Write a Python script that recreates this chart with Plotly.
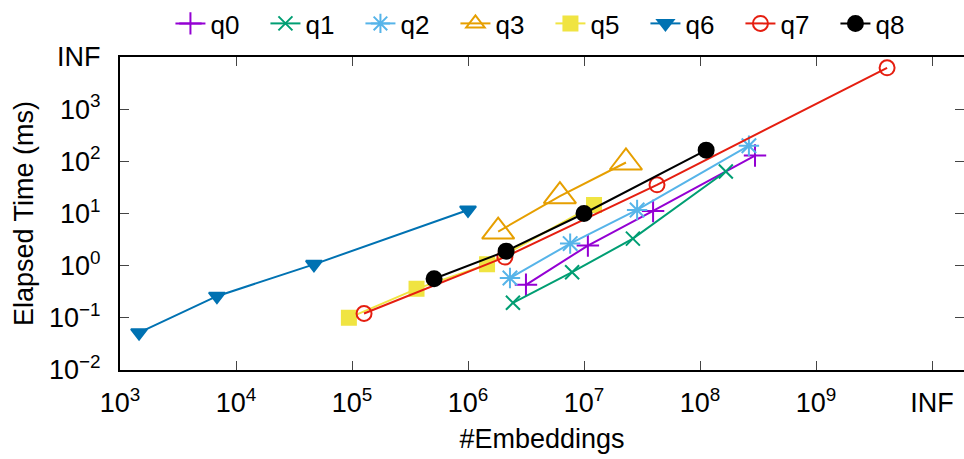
import plotly.graph_objects as go

# ---- data ----
names = ["q0", "q1", "q2", "q3", "q5", "q6", "q7", "q8"]

q0_x = [3.16e6, 1.08e7, 3.94e7, 2.98e8]
q0_y = [0.43, 2.43, 11.2, 129]

q1_x = [2.44e6, 7.9e6, 2.64e7, 1.67e8]
q1_y = [0.194, 0.75, 3.3, 64]

q2_x = [2.3e6, 7.6e6, 2.87e7, 2.64e8]
q2_y = [0.58, 2.65, 11.7, 199]

q3_x = [1.82e6, 6.2e6, 2.3e7]
q3_y = [4.5, 21.5, 95]

q5_x = [9.4e4, 3.6e5, 1.46e6, 1.22e7]
q5_y = [0.10, 0.36, 1.06, 14.5]

q6_x = [1.46e3, 6.85e3, 4.7e4, 1.0e6]
q6_y = [0.052, 0.26, 1.06, 11.7]

q7_x = [1.27e5, 2.08e6, 4.26e7, 4.1e9]
q7_y = [0.121, 1.46, 35.5, 6200]

q8_x = [5.1e5, 2.13e6, 1.0e7, 1.13e8]
q8_y = [0.56, 1.9, 10.0, 164]

x_tickvals = [1e3, 1e4, 1e5, 1e6, 1e7, 1e8, 1e9, 1e10]
x_ticktext = ["10<sup>3</sup>", "10<sup>4</sup>", "10<sup>5</sup>", "10<sup>6</sup>",
              "10<sup>7</sup>", "10<sup>8</sup>", "10<sup>9</sup>", "INF"]
y_tickvals = [1e-2, 1e-1, 1e0, 1e1, 1e2, 1e3, 1e4]
y_ticktext = ["10<sup>\u22122</sup>", "10<sup>\u22121</sup>", "10<sup>0</sup>",
              "10<sup>1</sup>", "10<sup>2</sup>", "10<sup>3</sup>", "INF"]

xs = [q0_x, q1_x, q2_x, q3_x, q5_x, q6_x, q7_x, q8_x]
ys = [q0_y, q1_y, q2_y, q3_y, q5_y, q6_y, q7_y, q8_y]

# ---- styles ----
colors = ["#9400D3", "#009E73", "#56B4E9", "#E69F00", "#F0E442", "#0072B2", "#E51E10", "#000000"]
symbols = ["cross-thin-open", "x-thin-open", "asterisk-open", "triangle-up-open",
           "square", "triangle-down", "circle-open", "circle"]
sizes = [16, 14, 17, 28, 14, 14, 15, 15]

FONT = "Liberation Sans, Arial, Helvetica, sans-serif"

fig = go.Figure()
for n, x, y, c, s, sz in zip(names, xs, ys, colors, symbols, sizes):
    fig.add_trace(go.Scatter(
        x=x, y=y, name=n, mode="lines+markers",
        line=dict(color=c, width=2),
        marker=dict(symbol=s, size=sz, color=c, line=dict(color=c, width=2)),
    ))

axis_common = dict(
    type="log", showline=True, linecolor="black", linewidth=2, mirror="ticks",
    ticks="inside", ticklen=9, tickwidth=1, tickcolor="#444444",
    showgrid=False, zeroline=False, automargin=False,
    tickfont=dict(family=FONT, size=27, color="black"),
)

fig.update_layout(
    width=964, height=459,
    margin=dict(l=120, r=0, t=54, b=89),
    paper_bgcolor="white", plot_bgcolor="white",
    font=dict(family=FONT, size=25, color="black"),
    showlegend=True,
    legend=dict(
        orientation="h", x=0.51, xanchor="center",
        y=1.108, yanchor="middle",
        font=dict(family=FONT, size=26, color="black"),
        entrywidth=50, entrywidthmode="pixels", itemwidth=30,
        bgcolor="rgba(0,0,0,0)", tracegroupgap=0,
    ),
    xaxis=dict(
        **axis_common, range=[3, 3 + 844 / 116],
        tickvals=x_tickvals, ticktext=x_ticktext, ticklabelstandoff=8,
        title=dict(text="#Embeddings", font=dict(family=FONT, size=27), standoff=12),
    ),
    yaxis=dict(
        **axis_common, range=[-2, 4],
        tickvals=y_tickvals, ticktext=y_ticktext, ticklabelstandoff=12,
        title=dict(text="Elapsed Time (ms)", font=dict(family=FONT, size=27), standoff=8),
    ),
)

fig.write_html("out.html")
